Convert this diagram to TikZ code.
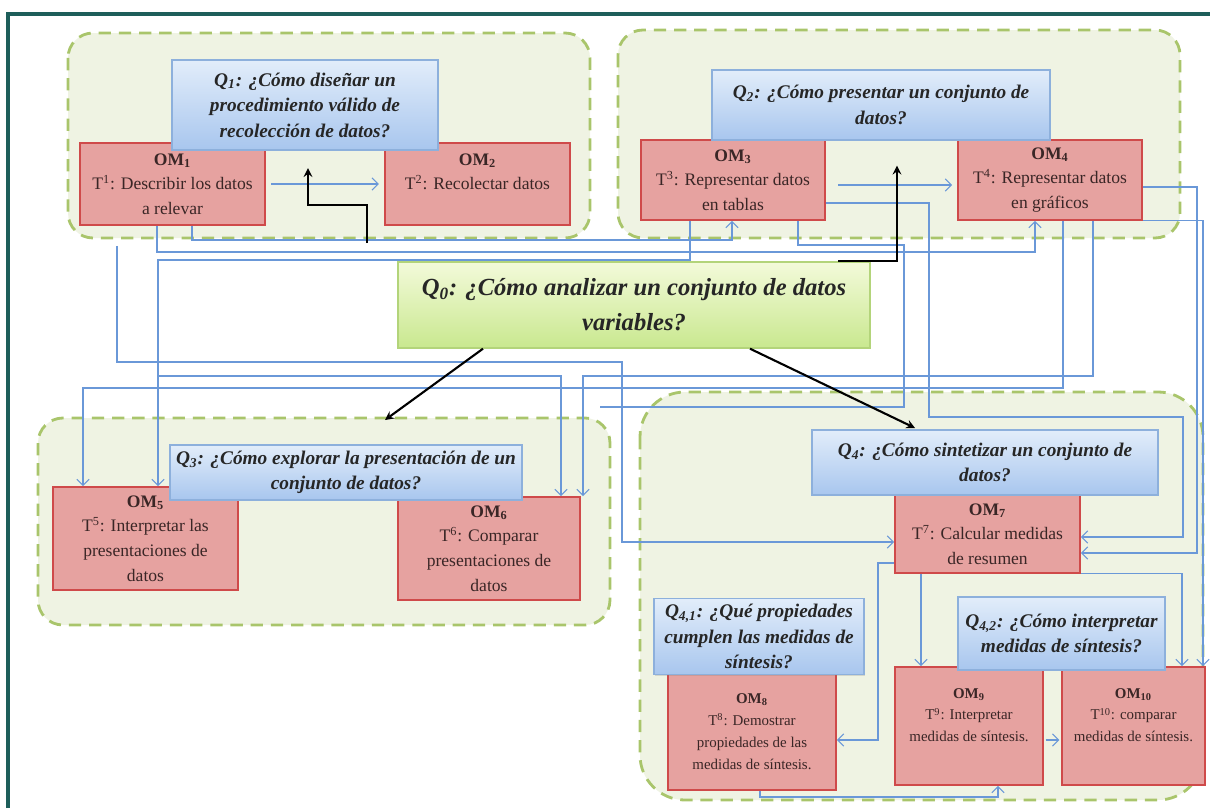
\documentclass[tikz,border=0pt]{standalone}
\usepackage{fontspec}
\setmainfont{Liberation Serif}
\usetikzlibrary{arrows.meta, shadows}

\definecolor{grpfill}{HTML}{EFF3E3}
\definecolor{grpline}{HTML}{A9C56B}
\definecolor{omfill}{HTML}{E6A2A0}
\definecolor{omline}{HTML}{CF4A4A}
\definecolor{omtext}{HTML}{3A2626}
\definecolor{qtop}{HTML}{E2EDFA}
\definecolor{qbot}{HTML}{A8C6EE}
\definecolor{qline}{HTML}{8DB0DC}
\definecolor{ztop}{HTML}{F3FADA}
\definecolor{zbot}{HTML}{C9E88F}
\definecolor{zline}{HTML}{B3D47A}
\definecolor{linkblue}{HTML}{6A98D8}
\definecolor{edgeteal}{HTML}{1E5E5A}

\begin{document}
\begin{tikzpicture}[>=stealth, thick, x=0.02cm, y=-0.02cm]
        \tikzstyle{grp}=[draw=grpline, fill=grpfill, line width=1.6pt, dash pattern=on 7pt off 4.5pt, rounded corners=0.5cm]
        \tikzstyle{om}=[draw=omline, fill=omfill, line width=1pt, align=center, inner sep=2pt, text=omtext, font=\fontsize{10}{14}\selectfont]
        \tikzstyle{omsmall}=[om, font=\fontsize{8.5}{12.5}\selectfont]
        \tikzstyle{q}=[draw=qline, top color=qtop, bottom color=qbot, line width=0.8pt, align=center, text=black!85, font=\fontsize{11}{14.5}\selectfont\bfseries\itshape, drop shadow={opacity=0.25, shadow xshift=0.8pt, shadow yshift=-0.8pt}]
        \tikzstyle{zero}=[q, draw=zline, top color=ztop, bottom color=zbot, font=\fontsize{14}{20}\selectfont\bfseries\itshape]
        \tikzstyle{link}=[draw=linkblue, line width=0.6pt, ->, >={Straight Barb[length=3.5pt, width=7pt]}]
        \tikzstyle{plain}=[draw=linkblue, line width=0.6pt]
        \tikzstyle{main}=[draw=black, line width=1.2pt, ->]

        \useasboundingbox (0,0) rectangle (1210,808);

        % Frame
        \draw[edgeteal, line width=2.5pt] (8,808) -- (8,14) -- (1210,14);

        % Groups
        \draw[grp] (68,33) rectangle (590,238);
        \draw[grp] (618,30) rectangle (1180,238);
        \draw[grp] (38,418) rectangle (610,625);
        \draw[grp, rounded corners=0.9cm] (640,392) rectangle (1203,800);

        % Nodes
        \node[om, minimum width=3.7cm, minimum height=1.64cm] (om1) at (172.5,184) {\textbf{OM\textsubscript{1}}\\T\textsuperscript{1}: Describir los datos\\a relevar};
        \node[om, minimum width=3.7cm, minimum height=1.64cm] (om2) at (477.5,184) {\textbf{OM\textsubscript{2}}\\T\textsuperscript{2}: Recolectar datos\\};
        \node[om, minimum width=3.68cm, minimum height=1.6cm] (om3) at (733,180) {\textbf{OM\textsubscript{3}}\\T\textsuperscript{3}: Representar datos\\en tablas};
        \node[om, minimum width=3.68cm, minimum height=1.6cm] (om4) at (1050,180) {\textbf{OM\textsubscript{4}}\\T\textsuperscript{4}: Representar datos\\en gráficos};
        \node[om, minimum width=3.7cm, minimum height=2.06cm] (om5) at (145.5,538.5) {\textbf{OM\textsubscript{5}}\\T\textsuperscript{5}: Interpretar las\\presentaciones de\\datos};
        \node[om, minimum width=3.64cm, minimum height=2.06cm] (om6) at (489,548.5) {\textbf{OM\textsubscript{6}}\\T\textsuperscript{6}: Comparar\\presentaciones de\\datos};
        \node[om, minimum width=3.7cm, minimum height=1.56cm] (om7) at (987.5,534) {\textbf{OM\textsubscript{7}}\\T\textsuperscript{7}: Calcular medidas\\de resumen};
        \node[omsmall, minimum width=3.36cm, minimum height=2.34cm] (om8) at (752,731.5) {\textbf{OM\textsubscript{8}}\\T\textsuperscript{8}: Demostrar\\propiedades de las\\medidas de síntesis.};
        \node[omsmall, minimum width=2.96cm, minimum height=2.36cm] (om9) at (969,726) {\textbf{OM\textsubscript{9}}\\T\textsuperscript{9}: Interpretar\\medidas de síntesis.\\};
        \node[omsmall, minimum width=2.86cm, minimum height=2.36cm] (om10) at (1133.5,726) {\textbf{OM\textsubscript{10}}\\T\textsuperscript{10}: comparar\\medidas de síntesis.\\};

        \node[q, minimum width=5.32cm, minimum height=1.8cm] (q1) at (305,105) {Q\textsubscript{1}: ¿Cómo diseñar un\\procedimiento válido de\\recolección de datos?};
        \node[q, minimum width=6.76cm, minimum height=1.4cm] (q2) at (881,105) {Q\textsubscript{2}: ¿Cómo presentar un conjunto de\\datos?};
        \node[q, minimum width=6.96cm, minimum height=1.1cm] (q3) at (346,472.5) {Q\textsubscript{3}: ¿Cómo explorar la presentación de un\\conjunto de datos?};
        \node[q, minimum width=6.92cm, minimum height=1.3cm] (q4) at (985,462.5) {Q\textsubscript{4}: ¿Cómo sintetizar un conjunto de\\datos?};
        \node[q, minimum width=4.2cm, minimum height=1.46cm] (q41) at (759,636.5) {Q\textsubscript{4,1}: ¿Qué propiedades\\cumplen las medidas de\\síntesis?};
        \node[q, minimum width=4.14cm, minimum height=1.46cm] (q42) at (1061.5,633.5) {Q\textsubscript{4,2}: ¿Cómo interpretar\\medidas de síntesis?};
        \node[zero, minimum width=9.44cm, minimum height=1.72cm] (q0) at (634,305) {Q\textsubscript{0}: ¿Cómo analizar un conjunto de datos\\variables?};

        % OM1 links
        \draw[link, shorten <=3pt, shorten >=3pt] (om1) -- (om2);
        \draw[link] (192,0 |- om1.south) |- (732,240) -- (732,0 |- om3.south);
        \draw[link] (157,0 |- om1.south) |- (1035,252) -- (1035,0 |- om4.south);
        \draw[link, shorten <=0.4cm] (117,0 |- om1.south) |- (622,362) |- (om7.west |- 0,542);

        % OM3 links
        \draw[link, shorten <=0.25cm, shorten >=0.1cm] (om3.east |- 0,185) -- (om4.west |- 0,185);
        \draw[link] (690,0 |- om3.south) |- (158,260) -- (158,0 |- om5.north);
        \draw[link] (690,0 |- om3.south) |- (158,260) |- (561,376) -- (561,0 |- om6.north);
        \draw[link] (om3.east |- 0,203) -| (929,417) -| (1183,537) -- (om7.east |- 0,537);
        \draw[plain] (798,0 |- om3.south) |- (904,245) |- (600,407);

        % OM4 links
        \draw[link] (1063,0 |- om4.south) |- (83,388) -- (83,0 |- om5.north);
        \draw[link] (1093,0 |- om4.south) |- (583,376) -- (583,0 |- om6.north);
        \draw[link] (om4.east |- 0,187) -| (1197,553) -- (om7.east |- 0,553);
        \draw[link] (om4.south east) -| (1203,0 |- om10.north);

        % OM7 links
        \draw[link] (om7.west |- 0,563) -| (878,740) -- (om8.east |- 0,740);
        \draw[link] (921,0 |- om7.south) -- (921,0 |- om9.north);
        \draw[link] (om7.south east) -| (1182,0 |- om10.north);
        \draw[link, shorten <=1pt, shorten >=1pt] (om9.east |- 0,740) -- (om10.west |- 0,740);
        \draw[link] (760,0 |- om8.south) |- (998,797) -- (998,0 |- om9.south);

        % Q0 arrows
        \coordinate (b1) at (367,243);
        \coordinate (t3) at (385,420);
        \coordinate (t4) at (915,428);
        \draw[main, shorten >=0.35cm] (b1) |- (308,205) -- (308,0 |- q1.south);
        \draw[main, shorten >=0.5cm] (838,0 |- q0.north) -| (897,0 |- q2.south);
        \draw[main] (483,0 |- q0.south) -- (t3);
        \draw[main] (750,0 |- q0.south) -- (t4);
\end{tikzpicture}
\end{document}
